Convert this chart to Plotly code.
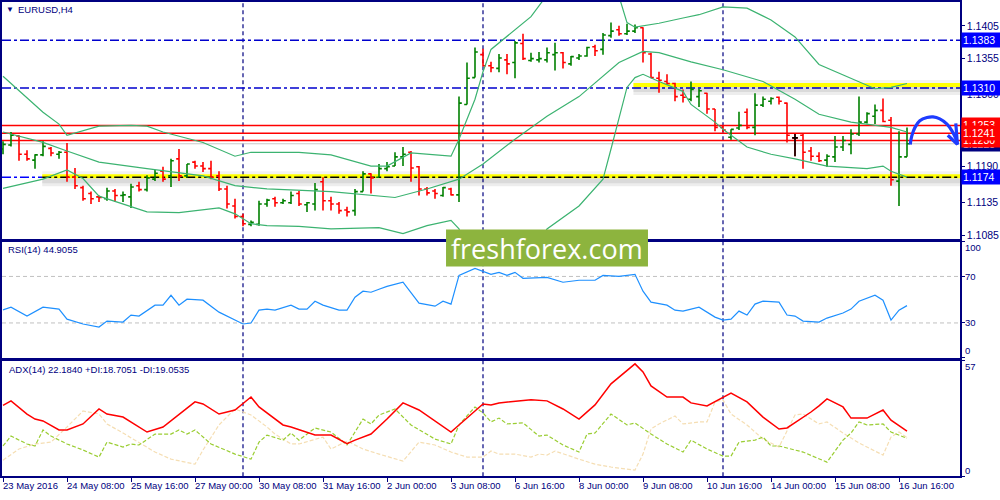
import plotly.graph_objects as go

# ---------------- data ----------------
bars = list(range(114))  # H4 bar index from 23 May 2016 00:00
tick_bars = [0, 8, 16, 24, 32, 40, 48, 56, 64, 72, 80, 88, 96, 104, 112]
tick_labels = ["23 May 2016", "24 May 08:00", "25 May 16:00", "27 May 00:00", "30 May 08:00",
               "31 May 16:00", "2 Jun 00:00", "3 Jun 08:00", "6 Jun 16:00", "8 Jun 00:00",
               "9 Jun 08:00", "10 Jun 16:00", "14 Jun 00:00", "15 Jun 08:00", "16 Jun 16:00"]
week_separators = [30, 60, 90]

opens = [1.1217,1.1223,1.1237,1.1209,1.1200,1.1208,1.1218,1.1209,1.1212,1.1174,
         1.1158,1.1149,1.1144,1.1141,1.1153,1.1146,1.1144,1.1161,1.1155,1.1171,
         1.1183,1.1176,1.1202,1.1176,1.1197,1.1191,1.1187,1.1176,1.1156,1.1130,
         1.1114,1.1102,1.1102,1.1133,1.1141,1.1135,1.1135,1.1149,1.1132,1.1133,
         1.1167,1.1138,1.1133,1.1124,1.1123,1.1152,1.1179,1.1174,1.1187,1.1191,
         1.1205,1.1212,1.1190,1.1156,1.1153,1.1146,1.1156,1.1147,1.1285,1.1326,
         1.1361,1.1344,1.1340,1.1353,1.1349,1.1378,1.1352,1.1353,1.1353,1.1361,
         1.1364,1.1347,1.1356,1.1359,1.1373,1.1369,1.1390,1.1399,1.1393,1.1397,
         1.1402,1.1362,1.1325,1.1320,1.1317,1.1299,1.1293,1.1297,1.1302,1.1278,
         1.1250,1.1235,1.1249,1.1273,1.1250,1.1284,1.1290,1.1296,1.1287,1.1234,
         1.1238,1.1214,1.1206,1.1200,1.1205,1.1220,1.1224,1.1240,1.1258,1.1267,
         1.1276,1.1261,1.1168,1.1205]
highs = [1.1229,1.1243,1.1238,1.1215,1.1209,1.1229,1.1220,1.1214,1.1226,1.1188,
         1.1161,1.1152,1.1146,1.1158,1.1156,1.1152,1.1164,1.1167,1.1177,1.1185,
         1.1190,1.1202,1.1217,1.1194,1.1199,1.1197,1.1199,1.1183,1.1161,1.1141,
         1.1118,1.1108,1.1138,1.1141,1.1144,1.1141,1.1152,1.1153,1.1136,1.1165,
         1.1174,1.1144,1.1136,1.1129,1.1156,1.1183,1.1180,1.1194,1.1197,1.1212,
         1.1220,1.1214,1.1191,1.1159,1.1156,1.1159,1.1158,1.1297,1.1349,1.1372,
         1.1370,1.1350,1.1362,1.1362,1.1382,1.1393,1.1364,1.1365,1.1372,1.1379,
         1.1365,1.1359,1.1362,1.1373,1.1376,1.1394,1.1410,1.1405,1.1408,1.1407,
         1.1403,1.1364,1.1335,1.1331,1.1318,1.1308,1.1320,1.1309,1.1303,1.1278,
         1.1253,1.1247,1.1274,1.1279,1.1302,1.1297,1.1296,1.1297,1.1288,1.1240,
         1.1240,1.1220,1.1212,1.1209,1.1237,1.1237,1.1247,1.1297,1.1273,1.1285,
         1.1294,1.1266,1.1244,1.1250]
lows = [1.1209,1.1221,1.1199,1.1199,1.1187,1.1206,1.1206,1.1202,1.1167,1.1156,
        1.1138,1.1133,1.1136,1.1138,1.1136,1.1136,1.1127,1.1152,1.1152,1.1168,
        1.1167,1.1159,1.1168,1.1173,1.1187,1.1182,1.1171,1.1153,1.1126,1.1111,
        1.1099,1.1099,1.1100,1.1129,1.1129,1.1133,1.1133,1.1130,1.1121,1.1123,
        1.1123,1.1123,1.1118,1.1114,1.1115,1.1152,1.1149,1.1174,1.1183,1.1191,
        1.1191,1.1167,1.1146,1.1146,1.1141,1.1144,1.1146,1.1136,1.1285,1.1326,
        1.1343,1.1334,1.1334,1.1331,1.1325,1.1353,1.1350,1.1349,1.1349,1.1337,
        1.1340,1.1344,1.1353,1.1358,1.1359,1.1361,1.1387,1.1390,1.1391,1.1394,
        1.1349,1.1325,1.1303,1.1315,1.1290,1.1288,1.1290,1.1281,1.1271,1.1244,
        1.1243,1.1231,1.1246,1.1247,1.1238,1.1281,1.1285,1.1285,1.1227,1.1206,
        1.1187,1.1199,1.1197,1.1190,1.1197,1.1214,1.1209,1.1237,1.1256,1.1255,
        1.1258,1.1161,1.1130,1.1205]
closes = [1.1224,1.1238,1.1209,1.1202,1.1208,1.1221,1.1211,1.1212,1.1174,1.1161,
          1.1141,1.1141,1.1143,1.1153,1.1146,1.1147,1.1159,1.1155,1.1173,1.1180,
          1.1171,1.1199,1.1176,1.1194,1.1191,1.1187,1.1174,1.1156,1.1133,1.1114,
          1.1103,1.1105,1.1133,1.1139,1.1135,1.1138,1.1146,1.1133,1.1135,1.1155,
          1.1138,1.1133,1.1123,1.1121,1.1152,1.1179,1.1173,1.1187,1.1190,1.1205,
          1.1209,1.1188,1.1156,1.1150,1.1149,1.1158,1.1147,1.1287,1.1325,1.1365,
          1.1344,1.1341,1.1356,1.1347,1.1379,1.1355,1.1355,1.1355,1.1364,1.1364,
          1.1349,1.1358,1.1359,1.1372,1.1367,1.1391,1.1397,1.1393,1.1397,1.1402,
          1.1364,1.1326,1.1322,1.1317,1.1297,1.1296,1.1308,1.1306,1.1278,1.1250,
          1.1246,1.1247,1.1253,1.1250,1.1284,1.1293,1.1294,1.1290,1.1238,1.1234,
          1.1212,1.1206,1.1199,1.1206,1.1220,1.1230,1.1240,1.1258,1.1271,1.1276,
          1.1259,1.1170,1.1205,1.1225]
doji_bars = [99]

# Bollinger bands
bb_up_bars = [0,5,7,8,12,16,18,20,25,28,29,31,37,41,46,48,51,56,57,59,60,61,64,66,68,70,72,74,77,78,
              79,82,85,87,90,93,96,99,102,107,109,111,113]
bb_up = [1.1328,1.1273,1.1255,1.1238,1.1252,1.1253,1.1252,1.1243,1.1227,1.1211,
         1.1206,1.1212,1.1212,1.1208,1.1191,1.1191,1.1211,1.1206,1.1232,1.1293,
         1.1335,1.1369,1.1399,1.1419,1.1452,1.1476,1.1482,1.1472,1.1450,1.1410,
         1.1403,1.1409,1.1417,1.1422,1.1434,1.1432,1.1414,1.1388,1.1346,1.1320,
         1.1309,1.1311,1.1317]
bb_mid_bars = [0,5,8,12,18,25,29,33,41,49,53,57,60,64,68,72,77,80,82,86,90,95,99,102,106,111,113]
bb_mid = [1.1243,1.1227,1.1214,1.1197,1.1187,1.1176,1.1161,1.1156,1.1152,1.1143,
          1.1156,1.1171,1.1194,1.1232,1.1267,1.1297,1.1349,1.1366,1.1364,1.1350,
          1.1338,1.1320,1.1293,1.1270,1.1258,1.1250,1.1243]
bb_lo_bars = [0,5,8,10,12,16,18,22,27,29,31,33,37,41,47,50,53,56,57,58,62,66,68,72,75,76,77,78,79,80,
              82,85,86,89,90,93,96,99,103,108,110,111,113]
bb_lo = [1.1157,1.1171,1.1185,1.1172,1.1145,1.1129,1.1121,1.1120,1.1127,1.1118,
         1.1103,1.1100,1.1099,1.1095,1.1097,1.1088,1.1100,1.1108,1.1095,1.1058,
         1.1027,1.1050,1.1095,1.1130,1.1171,1.1217,1.1265,1.1311,1.1326,1.1331,
         1.1320,1.1305,1.1285,1.1258,1.1247,1.1220,1.1209,1.1202,1.1191,1.1187,
         1.1191,1.1183,1.1174]

# RSI(14)
rsi_bars = [0,1,3,5,7,8,10,12,13,15,16,17,19,20,21,22,23,25,27,29,30,31,32,33,34,36,37,38,39,40,
            42,43,44,45,46,47,48,50,52,54,55,56,57,59,60,61,62,63,64,65,68,70,72,74,75,77,79,80,81,83,
            84,85,87,89,90,91,92,93,94,95,97,98,99,100,102,103,105,106,107,109,110,111,112,113]
rsi_vals = [41.3,43.6,35.9,43.6,41.9,33.3,29.1,26.5,31.6,30.8,36.8,35.9,45.3,45.3,53.8,45.3,50.4,49.6,39.3,32.5,
            29.1,29.9,41.0,41.9,41.0,45.3,41.9,41.9,48.7,45.3,41.0,41.0,52.1,57.3,56.4,59.0,61.5,65.0,47.0,44.4,
            48.7,46.2,70.9,76.9,74.4,71.8,73.5,70.9,73.5,68.4,69.2,65.0,66.7,66.7,70.9,70.1,71.8,57.3,47.9,45.3,
            41.0,40.2,43.6,35.0,32.5,33.3,40.2,36.8,46.2,48.7,47.9,36.8,35.9,31.6,30.8,34.2,38.5,41.9,48.7,53.8,
            49.6,32.5,41.0,44.9]
rsi_levels = [30, 70]

# ADX(14), +DI, -DI
adx_bars = [0,1,3,4,5,7,8,10,12,13,15,17,18,20,22,24,25,27,29,30,31,32,35,36,39,41,43,44,46,48,
            50,52,56,57,60,61,62,66,68,70,72,74,76,79,80,81,83,85,86,88,90,91,93,95,97,98,101,102,103,105,
            106,108,110,111,113]
adx_vals = [35.0,37.2,30.7,28.2,27.3,22.8,22.8,25.8,33.2,30.7,29.2,24.3,21.8,24.3,30.7,36.7,35.7,30.7,32.7,35.7,
            39.1,34.2,25.3,24.3,20.3,20.3,16.0,17.8,20.8,28.2,36.2,32.7,21.8,25.3,35.7,35.2,36.2,37.7,37.2,33.2,
            28.2,35.2,45.6,55.5,51.5,44.6,39.1,39.1,36.2,34.7,38.7,41.1,36.7,29.2,23.3,23.8,31.7,34.7,38.2,34.2,
            28.7,28.7,32.7,27.7,22.2]
pdi_bars = [0,1,3,4,5,6,8,10,12,13,15,16,17,19,21,22,23,24,26,29,31,32,33,35,36,37,39,41,43,45,
            46,47,49,51,54,56,57,59,60,61,62,63,65,67,68,70,72,73,74,76,78,79,81,83,85,86,88,90,91,92,
            94,95,96,97,100,102,103,105,106,107,108,110,111,113]
pdi_vals = [14.9,19.8,15.9,14.9,22.8,19.8,15.9,12.9,9.4,16.8,14.4,15.9,15.4,20.8,20.8,22.8,20.8,22.8,15.9,10.9,
            8.4,16.8,20.3,17.8,21.3,17.8,23.8,21.8,15.4,28.2,25.8,30.2,33.2,25.3,18.3,15.9,25.3,34.2,31.2,26.8,
            28.7,25.8,26.3,19.8,20.3,15.4,11.9,20.8,21.3,30.7,25.3,26.3,20.8,15.9,11.9,17.8,13.4,9.9,9.9,16.8,
            17.8,19.3,14.9,14.9,11.9,8.4,6.9,17.8,21.3,26.8,25.3,25.8,21.8,18.7]
mdi_bars = [0,2,4,6,8,10,12,13,15,17,19,21,24,25,27,29,31,33,34,36,37,40,41,43,45,47,50,52,54,56,
            58,60,61,62,64,66,67,68,69,72,74,76,79,80,81,82,84,85,87,88,89,90,91,93,95,97,99,100,102,103,
            105,107,110,111,112,113]
mdi_vals = [7.9,13.4,15.9,16.8,24.3,32.2,30.7,25.8,21.3,16.4,11.9,8.4,5.9,12.9,25.3,33.2,30.2,24.3,20.8,15.9,
            15.9,19.3,13.4,17.3,13.4,10.9,7.4,16.8,15.4,11.9,9.4,9.4,12.4,10.9,10.9,9.4,10.9,10.4,12.4,8.4,
            5.9,4.5,3.0,10.9,23.3,25.8,29.7,25.8,26.8,26.8,36.7,37.7,30.7,25.3,18.3,14.4,30.2,30.7,25.8,26.8,
            21.3,16.4,10.4,19.3,21.8,19.1]

# price levels and axis labels
price_ticks = [1.1085, 1.1135, 1.1190, 1.1245, 1.1300, 1.1355, 1.1405]
dashdot_levels = [1.1383, 1.1310]
red_levels = [1.1253, 1.1241, 1.1230]
bid_level = 1.1225
support_level = 1.1174
support_start_bar = 4.9
resistance_level = 1.1310
resistance_start_bar = 78.8

# hand-drawn forecast arrow (bar, price)
arrow_bars = [113.4, 113.6, 114.0, 114.6, 115.5, 116.25, 117.1, 118.0, 118.6, 119.1, 119.3]
arrow_prices = [1.1224, 1.1237, 1.1250, 1.1260, 1.1265, 1.1266, 1.1263, 1.1255, 1.1245, 1.1233, 1.1224]
arrowhead_bars = [118.1, 119.3, 119.1]
arrowhead_prices = [1.1238, 1.1224, 1.1256]

# ---------------- figure ----------------
FONT = "Liberation Sans"
NAVY = "#000080"
X_RANGE = [-0.125, 119.625]
D_MAIN = [0.52, 0.996]
D_RSI = [0.28, 0.514]
D_ADX = [0.042, 0.274]

fig = go.Figure()

for bx, by in [(bb_up_bars, bb_up), (bb_mid_bars, bb_mid), (bb_lo_bars, bb_lo)]:
    fig.add_trace(go.Scatter(x=bx, y=by, mode="lines", xaxis="x", yaxis="y",
                             line=dict(color="#3CB371", width=1.2), hoverinfo="skip"))

fig.add_trace(go.Ohlc(x=bars, open=opens, high=highs, low=lows, close=closes,
                      xaxis="x", yaxis="y", tickwidth=0.35,
                      increasing=dict(line=dict(color="#008000", width=1.6)),
                      decreasing=dict(line=dict(color="#FF0000", width=1.6))))
fig.add_trace(go.Ohlc(x=doji_bars, open=[opens[i] for i in doji_bars], high=[highs[i] for i in doji_bars],
                      low=[lows[i] for i in doji_bars], close=[closes[i] for i in doji_bars],
                      xaxis="x", yaxis="y", tickwidth=0.35,
                      increasing=dict(line=dict(color="#000000", width=1.6)),
                      decreasing=dict(line=dict(color="#000000", width=1.6))))

fig.add_trace(go.Scatter(x=arrow_bars, y=arrow_prices, mode="lines", xaxis="x", yaxis="y",
                         line=dict(color="#1E3CFF", width=3.2, shape="spline"), hoverinfo="skip"))
fig.add_trace(go.Scatter(x=arrowhead_bars, y=arrowhead_prices, mode="lines", xaxis="x", yaxis="y",
                         line=dict(color="#1E3CFF", width=3.2), hoverinfo="skip"))

fig.add_trace(go.Scatter(x=rsi_bars, y=rsi_vals, mode="lines", xaxis="x2", yaxis="y2",
                         line=dict(color="#1E90FF", width=1.2), hoverinfo="skip"))

fig.add_trace(go.Scatter(x=mdi_bars, y=mdi_vals, mode="lines", xaxis="x3", yaxis="y3",
                         line=dict(color="#F5DEB3", width=1.2, dash="4px,2px"), hoverinfo="skip"))
fig.add_trace(go.Scatter(x=pdi_bars, y=pdi_vals, mode="lines", xaxis="x3", yaxis="y3",
                         line=dict(color="#9ACD32", width=1.2, dash="4px,2px"), hoverinfo="skip"))
fig.add_trace(go.Scatter(x=adx_bars, y=adx_vals, mode="lines", xaxis="x3", yaxis="y3",
                         line=dict(color="#FF0000", width=1.5), hoverinfo="skip"))

# ---------------- shapes ----------------
shapes = []
for b in week_separators:
    shapes.append(dict(type="line", xref="x", yref="paper", x0=b, x1=b, y0=D_ADX[0], y1=D_MAIN[1],
                       line=dict(color=NAVY, width=1.2, dash="4px,3px"), layer="below"))
for lv in dashdot_levels:
    shapes.append(dict(type="line", xref="x domain", yref="y", x0=0, x1=1, y0=lv, y1=lv,
                       line=dict(color="#0000CD", width=1.5, dash="9px,3px,3px,3px"), layer="below"))
# yellow highlighted zones with soft shadow
for lv, start, off in [(support_level, support_start_bar, 0), (resistance_level, resistance_start_bar, 2)]:
    for a, b, col in [(-9 + off, -1 + off, "rgba(0,0,0,0.07)"), (-6 + off, -1 + off, "rgba(0,0,0,0.08)"),
                      (3 + off, 6 + off, "rgba(0,0,0,0.05)")]:
        shapes.append(dict(type="rect", xref="x", yref="y", x0=start, x1=X_RANGE[1], ysizemode="pixel",
                           yanchor=lv, y0=a, y1=b, fillcolor=col, line=dict(width=0), layer="below"))
    shapes.append(dict(type="rect", xref="x", yref="y", x0=start, x1=X_RANGE[1], ysizemode="pixel",
                       yanchor=lv, y0=-1 + off, y1=3 + off, fillcolor="#FFFF00", line=dict(width=0),
                       layer="below"))
shapes.append(dict(type="line", xref="x", yref="y", x0=X_RANGE[0], x1=support_start_bar,
                   y0=support_level, y1=support_level,
                   line=dict(color="#0000FF", width=1.5, dash="9px,3px,3px,3px"), layer="below"))
shapes.append(dict(type="line", xref="x", yref="y", x0=support_start_bar, x1=X_RANGE[1],
                   y0=support_level, y1=support_level,
                   line=dict(color="#000000", width=1.5, dash="9px,3px,3px,3px"), layer="below"))
for lv in red_levels:
    shapes.append(dict(type="line", xref="x domain", yref="y", x0=0, x1=1, y0=lv, y1=lv,
                       line=dict(color="#FF0000", width=1.5), layer="below"))
shapes.append(dict(type="line", xref="x domain", yref="y", x0=0, x1=1, y0=bid_level, y1=bid_level,
                   line=dict(color="#C8C8C8", width=1), layer="below"))
for lv in rsi_levels:
    shapes.append(dict(type="line", xref="x2 domain", yref="y2", x0=0, x1=1, y0=lv, y1=lv,
                       line=dict(color="#C0C0C0", width=1, dash="4px,3px"), layer="below"))
# freshforex logo box
shapes.append(dict(type="rect", xref="paper", yref="paper", x0=0.4635, x1=0.6743, y0=0.464, y1=0.538,
                   fillcolor="#8DB43E", line=dict(width=0), layer="above"))

# ---------------- annotations ----------------
ann = []
ann.append(dict(text="▼", xref="paper", yref="paper", x=0.002, y=0.98, xanchor="left", yanchor="middle",
                showarrow=False, font=dict(family=FONT, size=8, color=NAVY)))
ann.append(dict(text="EURUSD,H4", xref="paper", yref="paper", x=0.015, y=0.98, xanchor="left",
                yanchor="middle", showarrow=False, font=dict(family=FONT, size=9.5, color=NAVY)))
ann.append(dict(text="RSI(14) 44.9055", xref="paper", yref="paper", x=0.004, y=0.498, xanchor="left",
                yanchor="middle", showarrow=False, font=dict(family=FONT, size=9.5, color=NAVY)))
ann.append(dict(text="ADX(14) 22.1840 +DI:18.7051 -DI:19.0535", xref="paper", yref="paper", x=0.005,
                y=0.256, xanchor="left", yanchor="middle", showarrow=False,
                font=dict(family=FONT, size=9.5, color=NAVY)))
ann.append(dict(text="freshforex.com", xref="paper", yref="paper", x=0.569, y=0.501, xanchor="center",
                yanchor="middle", showarrow=False, font=dict(family="Open Sans", size=27, color="white")))

for b, t in zip(tick_bars, tick_labels):
    ann.append(dict(text=t, xref="x3", yref="paper", x=b, y=0.024, xanchor="left", yanchor="middle",
                    xshift=-2, showarrow=False, font=dict(family=FONT, size=9.5, color=NAVY)))

def price_box(value, bg):
    return dict(text=f"{value:.4f}", xref="paper", yref="y", x=1, y=value, xanchor="left", yanchor="middle",
                xshift=1, showarrow=False, bgcolor=bg, width=36, height=12, align="left", borderpad=1,
                font=dict(family=FONT, size=10.5, color="white"))

for lv in dashdot_levels:
    ann.append(price_box(lv, "#0000FF"))
ann.append(price_box(support_level, "#0000FF"))
ann.append(price_box(bid_level, NAVY))
for lv in [red_levels[0], red_levels[2], red_levels[1]]:
    ann.append(price_box(lv, "#FF0000"))

for v, sh in [(100, -6), (70, 0), (30, 0), (0, 7)]:
    ann.append(dict(text=str(v), xref="paper", yref="y2", x=1, y=v, xanchor="left", yanchor="middle",
                    xshift=3, yshift=sh, showarrow=False, font=dict(family=FONT, size=9.5, color=NAVY)))
for v, sh in [(57, -6), (0, 6)]:
    ann.append(dict(text=str(v), xref="paper", yref="y3", x=1, y=v, xanchor="left", yanchor="middle",
                    xshift=3, yshift=sh, showarrow=False, font=dict(family=FONT, size=9.5, color=NAVY)))

# ---------------- layout ----------------
frame = dict(showline=True, linecolor=NAVY, linewidth=1.5, mirror=True, showgrid=False, zeroline=False)

fig.update_layout(
    width=1000, height=500, margin=dict(l=2, r=40, t=0, b=0),
    paper_bgcolor="white", plot_bgcolor="white", showlegend=False,
    xaxis=dict(domain=[0, 1], anchor="y", range=X_RANGE, showticklabels=False, ticks="",
               rangeslider=dict(visible=False), **frame),
    yaxis=dict(domain=D_MAIN, anchor="x", side="right", range=[1.10803, 1.14414], tickvals=price_ticks,
               tickformat=".4f", ticks="outside", ticklen=3, tickcolor=NAVY,
               tickfont=dict(family=FONT, size=10.5, color=NAVY), **frame),
    xaxis2=dict(domain=[0, 1], anchor="y2", matches="x", range=X_RANGE, showticklabels=False, ticks="",
                rangeslider=dict(visible=False), **frame),
    yaxis2=dict(domain=D_RSI, anchor="x2", side="right", range=[0, 100], tickvals=[0, 30, 70, 100],
                ticks="outside", ticklen=3, tickcolor=NAVY, showticklabels=False, **frame),
    xaxis3=dict(domain=[0, 1], anchor="y3", matches="x", range=X_RANGE, tickvals=tick_bars,
                showticklabels=False, ticks="outside", ticklen=4, tickcolor=NAVY,
                rangeslider=dict(visible=False), **frame),
    yaxis3=dict(domain=D_ADX, anchor="x3", side="right", range=[0, 57], tickvals=[0, 57],
                ticks="outside", ticklen=3, tickcolor=NAVY, showticklabels=False, **frame),
    shapes=shapes, annotations=ann,
)

fig.write_html("out.html", config={"displayModeBar": False, "displaylogo": False},
               post_script="document.body.style.margin='0';document.body.style.overflow='hidden';")
